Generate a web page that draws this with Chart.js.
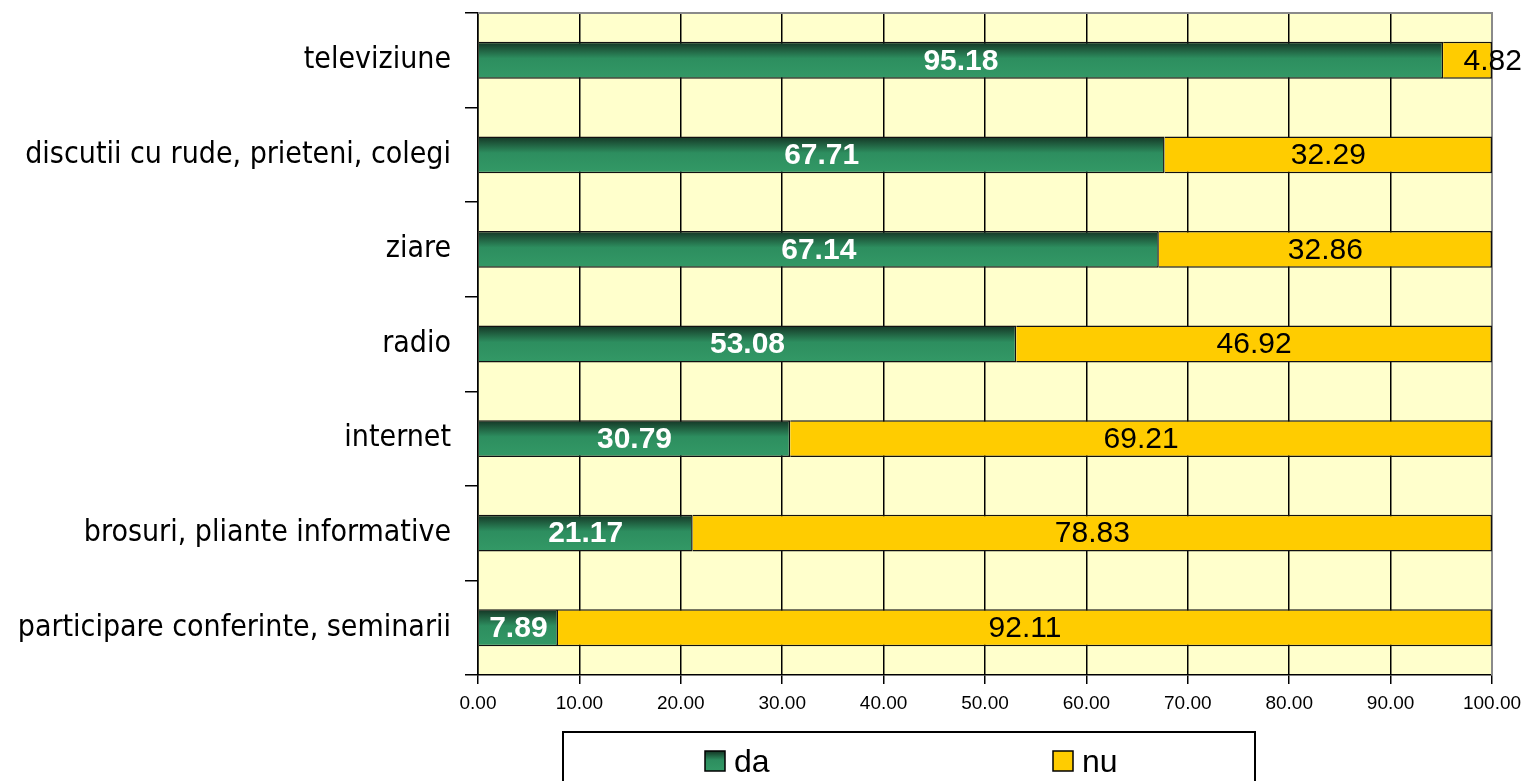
<!DOCTYPE html>
<html>
<head>
<meta charset="utf-8">
<script src="https://cdn.jsdelivr.net/npm/chart.js@4"></script>
<style>
  html, body { margin: 0; padding: 0; background: #fff; }
  #wrap { width: 1527px; height: 781px; }
</style>
</head>
<body>
<div id="wrap"><canvas id="myChart"></canvas></div>
<script>
// data
var categories = ["televiziune", "discutii cu rude, prieteni, colegi", "ziare", "radio", "internet", "brosuri, pliante informative", "participare conferinte, seminarii"];
var daValues = [95.18, 67.71, 67.14, 53.08, 30.79, 21.17, 7.89];
var nuValues = [4.82, 32.29, 32.86, 46.92, 69.21, 78.83, 92.11];
var seriesNames = ["da", "nu"];
var xTicks = [0, 10, 20, 30, 40, 50, 60, 70, 80, 90, 100];

var BAR_PCT = 0.39;

function greenGradient(ctx, top, bottom) {
    var g = ctx.createLinearGradient(0, top, 0, bottom);
    g.addColorStop(0, "#143424");
    g.addColorStop(0.45, "#2d8e5f");
    g.addColorStop(1, "#339966");
    return g;
}

function daColor(c) {
    var chart = c.chart;
    var y = chart.scales.y;
    if (!chart.chartArea || !y || c.dataIndex === undefined) return "#339966";
    var center = y.getPixelForValue(c.dataIndex);
    var step = Math.abs(y.getPixelForValue(1) - y.getPixelForValue(0));
    var half = step * BAR_PCT / 2;
    return greenGradient(chart.ctx, center - half, center + half);
}

var plotBg = {
    id: "plotBg",
    beforeDraw: function (chart) {
        var a = chart.chartArea, ctx = chart.ctx;
        ctx.save();
        ctx.fillStyle = "#FFFFCC";
        ctx.fillRect(a.left, a.top, a.right - a.left, a.bottom - a.top);
        ctx.restore();
    },
    beforeDatasetsDraw: function (chart) {
        var a = chart.chartArea, ctx = chart.ctx;
        ctx.save();
        ctx.strokeStyle = "#8a8a8a";
        ctx.lineWidth = 2;
        ctx.beginPath();
        ctx.moveTo(a.left, a.top);
        ctx.lineTo(a.right, a.top);
        ctx.lineTo(a.right, a.bottom);
        ctx.stroke();
        ctx.restore();
    }
};

var barLabels = {
    id: "barLabels",
    afterDatasetsDraw: function (chart) {
        var ctx = chart.ctx;
        chart.data.datasets.forEach(function (ds, di) {
            var meta = chart.getDatasetMeta(di);
            meta.data.forEach(function (el, i) {
                var txt = ds.data[i].toFixed(2);
                var p = el.getCenterPoint();
                ctx.save();
                ctx.font = (di === 0 ? "bold " : "") + "30px 'Liberation Sans', Arial, sans-serif";
                ctx.fillStyle = di === 0 ? "#ffffff" : "#000000";
                ctx.textBaseline = "middle";
                var w = ctx.measureText(txt).width;
                var barW = Math.abs(el.x - el.base);
                if (w > barW) {
                    ctx.textAlign = "left";
                    ctx.fillText(txt, p.x - 4, p.y + 1);
                } else {
                    ctx.textAlign = "center";
                    ctx.fillText(txt, p.x, p.y + 1);
                }
                ctx.restore();
            });
        });
    }
};

var boxLegend = {
    id: "boxLegend",
    afterDraw: function (chart) {
        var ctx = chart.ctx;
        ctx.save();
        ctx.strokeStyle = "#000";
        ctx.lineWidth = 2;
        ctx.strokeRect(563, 732, 692, 80);
        var xs = [705, 1053];
        chart.data.datasets.forEach(function (ds, di) {
            var x = xs[di];
            ctx.fillStyle = di === 0 ? greenGradient(ctx, 751, 771) : ds.backgroundColor;
            ctx.fillRect(x, 751, 20, 20);
            ctx.lineWidth = 1.5;
            ctx.strokeRect(x, 751, 20, 20);
            ctx.fillStyle = "#000";
            ctx.font = "32px 'Liberation Sans', Arial, sans-serif";
            ctx.textAlign = "left";
            ctx.textBaseline = "alphabetic";
            ctx.fillText(seriesNames[di], x + 29, 772);
        });
        ctx.restore();
    }
};

new Chart("myChart", {
    type: "bar",
    data: {
        labels: categories,
        datasets: [{
            label: seriesNames[0],
            data: daValues,
            backgroundColor: daColor,
            borderColor: "#111",
            borderWidth: 1.5,
            barPercentage: BAR_PCT,
            categoryPercentage: 1
        }, {
            label: seriesNames[1],
            data: nuValues,
            backgroundColor: "#FFCC00",
            borderColor: "#111",
            borderWidth: 1.5,
            barPercentage: BAR_PCT,
            categoryPercentage: 1
        }]
    },
    options: {
        indexAxis: "y",
        responsive: true,
        maintainAspectRatio: false,
        animation: false,
        layout: { padding: { top: 13, right: 35, bottom: 0, left: 0 } },
        plugins: {
            legend: { display: false },
            tooltip: { enabled: false }
        },
        scales: {
            x: {
                stacked: true,
                min: 0,
                max: 100,
                afterBuildTicks: function (s) {
                    s.ticks = xTicks.map(function (v) { return { value: v }; });
                },
                afterFit: function (s) { s.height = 106; s.paddingLeft = 0; s.paddingRight = 0; },
                grid: { color: "#000", lineWidth: 1.5, tickLength: 9, tickColor: "#000" },
                border: { color: "#000", width: 1.5 },
                ticks: {
                    color: "#000",
                    padding: 8,
                    maxRotation: 0,
                    font: { family: "'Liberation Sans', Arial, sans-serif", size: 19 },
                    callback: function (v) { return Number(v).toFixed(2); }
                }
            },
            y: {
                stacked: true,
                afterFit: function (s) { s.width = 478; s.paddingTop = 0; s.paddingBottom = 0; },
                grid: { offset: true, drawOnChartArea: false, color: "#000", lineWidth: 1.5, tickLength: 13 },
                border: { color: "#000", width: 1.5 },
                ticks: {
                    color: "#000",
                    padding: 14,
                    font: { family: "'DejaVu Sans Condensed', 'DejaVu Sans', sans-serif", size: 30 }
                }
            }
        }
    },
    plugins: [plotBg, barLabels, boxLegend]
});
</script>
</body>
</html>
